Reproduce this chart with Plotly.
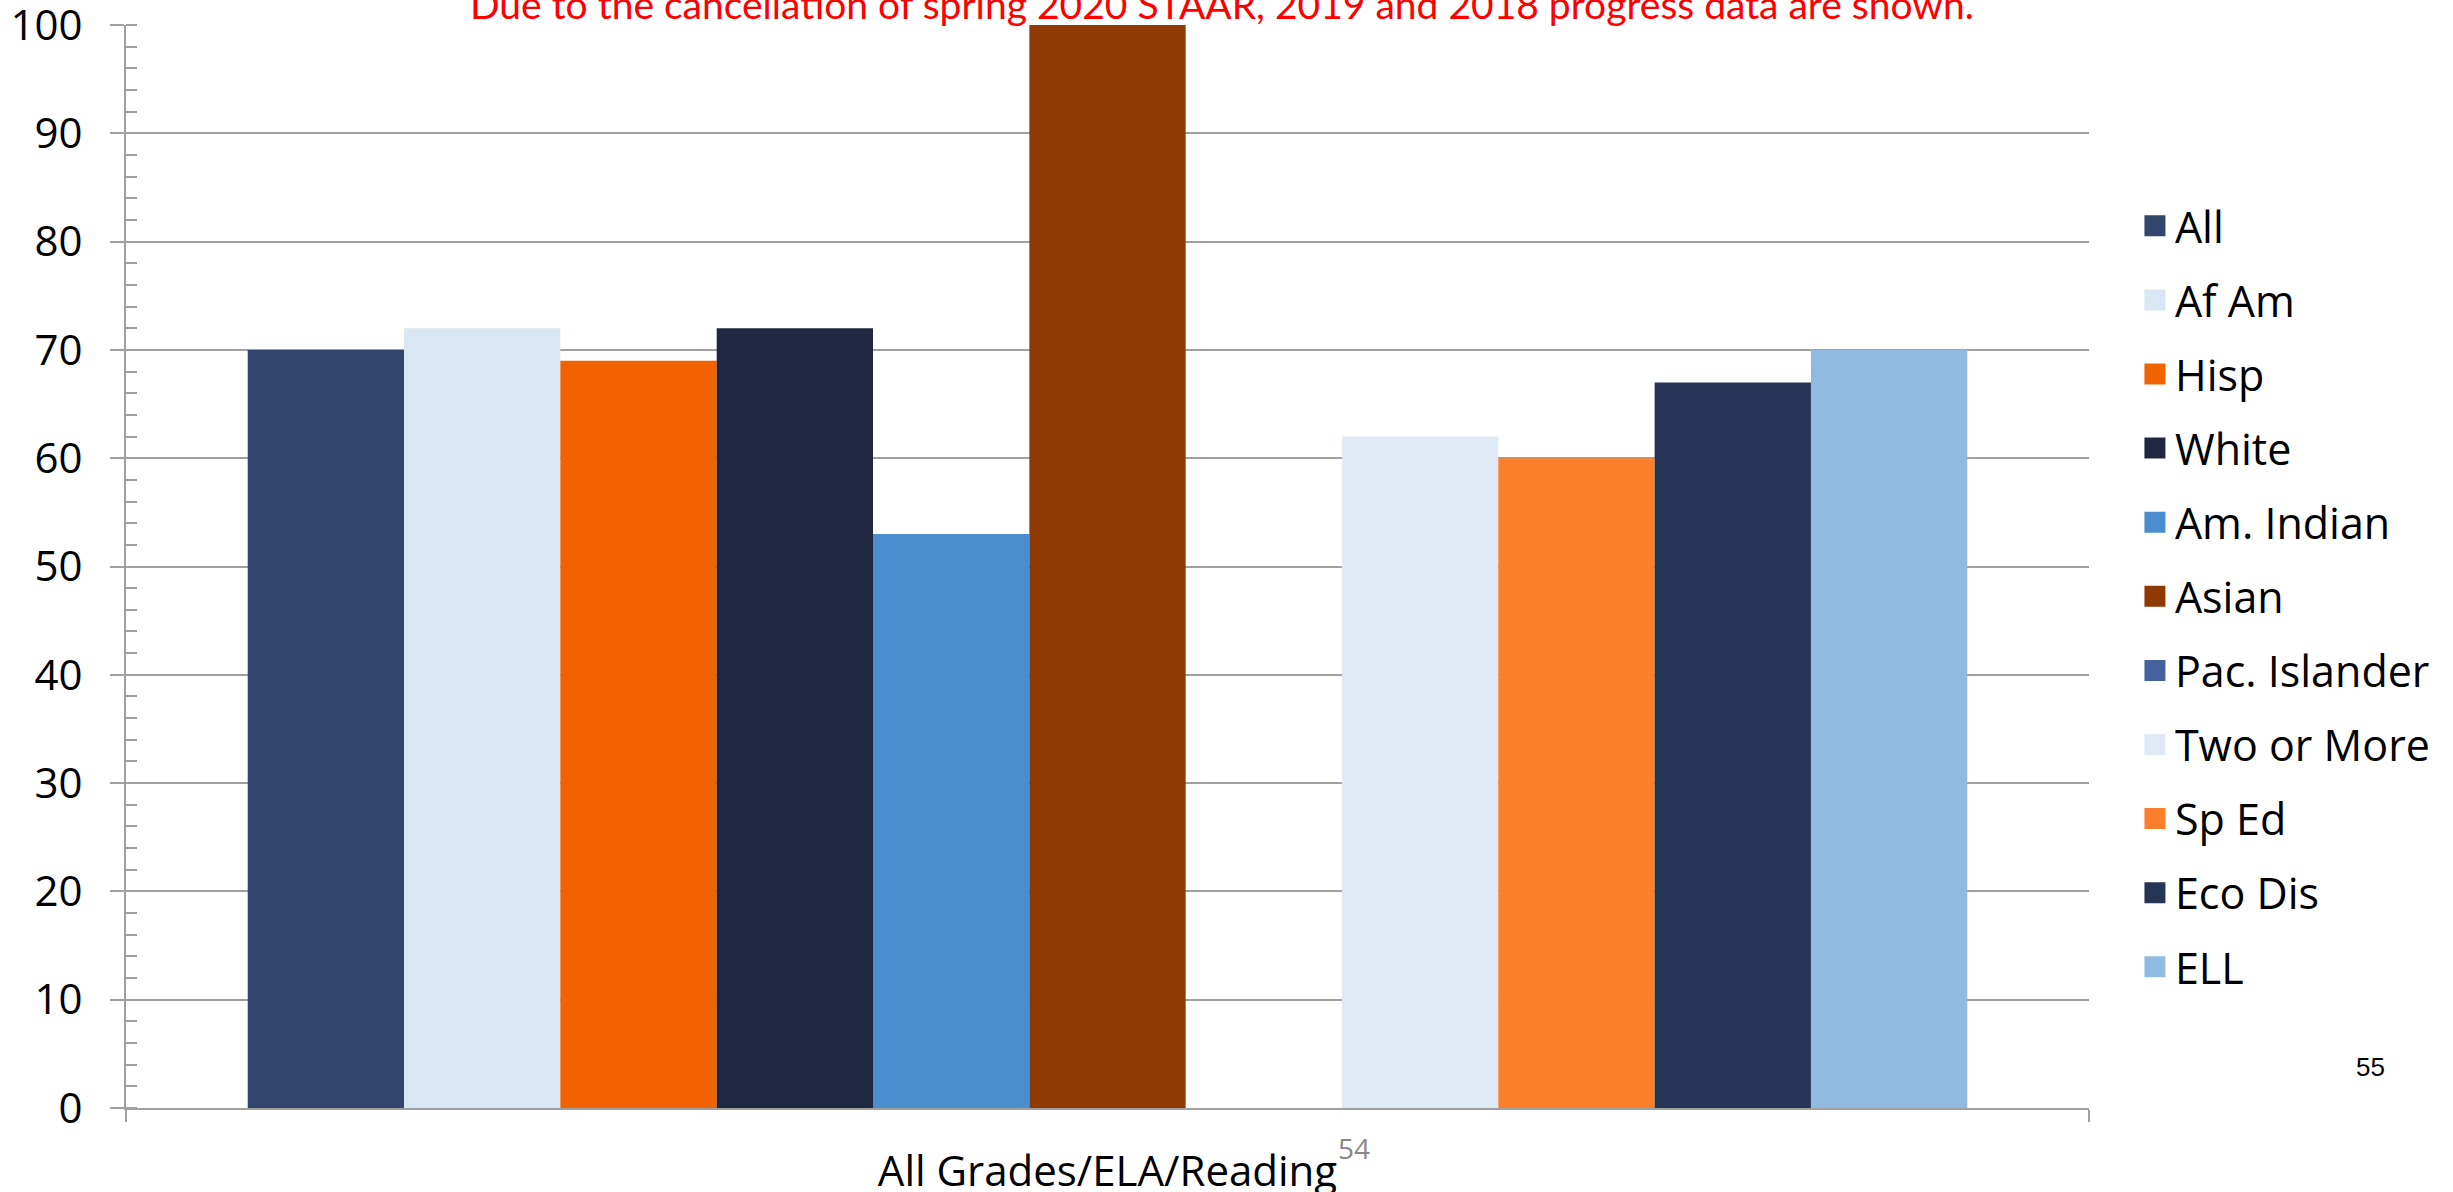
import plotly.graph_objects as go

category = ["All Grades/ELA/Reading"]
series_names = ["All", "Af Am", "Hisp", "White", "Am. Indian", "Asian",
                "Pac. Islander", "Two or More", "Sp Ed", "Eco Dis", "ELL"]
series_values = [70, 72, 69, 72, 53, 100, None, 62, 60, 67, 70]
series_colors = ["#32456c", "#d9e6f3", "#f06300", "#1f2840", "#4a8ecf", "#8e3a02",
                 "#46629e", "#dfeaf5", "#fd7f2c", "#263555", "#90bae0"]
y_ticks = [0, 10, 20, 30, 40, 50, 60, 70, 80, 90, 100]
note_text = "Due to the cancellation of spring 2020 STAAR, 2019 and 2018 progress data are shown."

fig = go.Figure()
for i, (name, val, col) in enumerate(zip(series_names, series_values, series_colors)):
    fig.add_trace(go.Bar(
        x=category, y=[val], name=name, marker=dict(color=col, line=dict(width=0)),
        legendgroup=f"g{i}", showlegend=False,
    ))
# legend entries (larger square swatches than the default bar swatch)
for i, (name, col) in enumerate(zip(series_names, series_colors)):
    fig.add_trace(go.Scatter(
        x=[None], y=[None], mode="markers", name=name, legendgroup=f"g{i}",
        marker=dict(symbol="square", size=16, color=col, line=dict(color=col, width=5)),
        hoverinfo="skip",
    ))

W, H = 2453, 1192
L, R, T, B = 126, 364, 25, 84
PW = W - L - R
fig.update_layout(
    width=W, height=H,
    margin=dict(l=L, r=R, t=T, b=B, autoexpand=False),
    paper_bgcolor="white", plot_bgcolor="white",
    barmode="group", bargap=0.124, bargroupgap=0,
    showlegend=True,
    legend=dict(
        x=1.0234, xanchor="left", y=0.8464, yanchor="top",
        font=dict(family="Open Sans", size=43, color="black"),
        tracegroupgap=15.2, bgcolor="rgba(0,0,0,0)",
    ),
    xaxis=dict(
        type="category", automargin=False, showgrid=False, showline=True,
        linecolor="#a0a0a0", linewidth=2,
        ticks="outside", tickson="boundaries", ticklen=12, tickcolor="#a0a0a0", tickwidth=2,
        tickfont=dict(family="Open Sans", size=42, color="black"),
        ticklabelstandoff=26, ticklabeloverflow="allow",
    ),
    yaxis=dict(
        range=[0, 100], tickvals=y_ticks, automargin=False, showgrid=True,
        gridcolor="#a0a0a0", gridwidth=2,
        showline=True, linecolor="#a0a0a0", linewidth=2,
        ticks="outside", ticklen=14, tickcolor="#a0a0a0", tickwidth=2,
        tickfont=dict(family="Open Sans", size=42, color="black"),
        ticklabelstandoff=19, ticklabeloverflow="allow",
        minor=dict(ticks="inside", dtick=2, ticklen=11, tickcolor="#a0a0a0", tickwidth=2, showgrid=False),
        zeroline=False,
    ),
    annotations=[
        dict(text=note_text, xref="paper", yref="paper", x=(1222 - L) / PW, y=1, xanchor="center",
             yanchor="middle", yshift=21, showarrow=False,
             font=dict(family="Lato", size=39, color="#ff0000")),
        dict(text="54", xref="paper", yref="paper", x=(1354 - L) / PW, y=0,
             xanchor="center", yanchor="middle", yshift=-(1148 - (H - B)), showarrow=False,
             font=dict(family="Open Sans", size=28, color="#888888")),
        dict(text="55", xref="paper", yref="paper", x=(2370 - L) / PW, y=0,
             xanchor="center", yanchor="middle", yshift=-(1067 - (H - B)), showarrow=False,
             font=dict(family="Liberation Sans", size=26, color="black")),
    ],
)

fig.write_html("out.html", config={"displayModeBar": False},
               post_script="document.body.style.margin='0';document.body.style.overflow='hidden';")
